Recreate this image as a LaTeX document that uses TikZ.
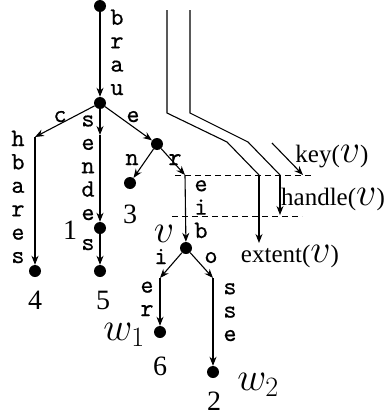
\RequirePackage{fix-cm}
\documentclass[tikz,border=0pt]{standalone}
\usepackage{fontspec}
\setmainfont{Liberation Serif}
\newfontfamily\edgefont{lmmono10-regular.otf}[FakeBold=0.4]
\usetikzlibrary{arrows.meta}
\newcommand{\letterstack}[1]{\vbox{\baselineskip=23.4pt\lineskiplimit=-100pt\lineskip=0pt\halign{\hfil##\hfil\cr#1\crcr}}}
\begin{document}
\begin{tikzpicture}[x=1pt,y=-1pt,
  dot/.style={circle,fill,inner sep=0pt,minimum size=12pt},
  arr/.style={-{Stealth[length=9pt,width=7pt]},line width=1.1pt},
  plain/.style={line width=1.1pt},
  dsh/.style={line width=1pt,dash pattern=on 6pt off 4pt},
  tt/.style={font=\edgefont\fontsize{25}{23.4}\selectfont,inner sep=0pt,anchor=base},
  num/.style={font=\fontsize{28}{30}\selectfont,inner sep=0pt,anchor=base},
  mth/.style={font=\fontsize{40}{40}\selectfont,inner sep=0pt,anchor=base},
  lbl/.style={font=\fontsize{25}{30}\selectfont,inner sep=0pt,anchor=base}]
\useasboundingbox (0,0) rectangle (385,415);
% dots
\node[dot] (root) at (100,6) {};
\node[dot] (n1) at (100,103) {};
\node[dot] (leaf4) at (35,271) {};
\node[dot] (d1) at (100,228) {};
\node[dot] (leaf5) at (100,271) {};
\node[dot] (n2) at (157,144) {};
\node[dot] (leaf3) at (130,183) {};
\node[dot] (v) at (186,248) {};
\node[dot] (leaf6) at (160,332) {};
\node[dot] (leaf2) at (213,372) {};
% bend points
\coordinate (cA) at (35,137);
\coordinate (sA) at (100,135);
\coordinate (rA) at (185,175);
\coordinate (iA) at (160,278);
\coordinate (oA) at (213,278);
% edges
\draw[arr] (root) -- (n1);
\draw[arr] (n1) -- (cA);
\draw[arr] (cA) -- (leaf4);
\draw[arr] (n1) -- (sA);
\draw[arr] (sA) -- (d1);
\draw[arr] (d1) -- (leaf5);
\draw[arr] (n1) -- (n2);
\draw[arr] (n2) -- (leaf3);
\draw[arr] (n2) -- (rA);
\draw[arr] (rA) -- (v);
\draw[arr] (v) -- (iA);
\draw[arr] (iA) -- (leaf6);
\draw[arr] (v) -- (oA);
\draw[arr] (oA) -- (leaf2);
% right side lines
\coordinate (a0) at (167,10);
\coordinate (a1) at (167,113);
\coordinate (a2) at (227,142);
\coordinate (a3) at (259,175);
\coordinate (a4) at (259,243);
\coordinate (b0) at (190,10);
\coordinate (b1) at (190,113);
\coordinate (b2) at (248,142);
\coordinate (b3) at (280,175);
\coordinate (b4) at (280,215);
\coordinate (k0) at (272,143);
\coordinate (k1) at (303,175);
\coordinate (u0) at (175,175);
\coordinate (u1) at (313,175);
\coordinate (l0) at (172,216);
\coordinate (l1) at (302,216);
\draw[plain] (a0) -- (a1) -- (a2) -- (a3);
\draw[arr] (a3) -- (a4);
\draw[plain] (b0) -- (b1) -- (b2) -- (b3);
\draw[arr] (b3) -- (b4);
\draw[arr] (k0) -- (k1);
\draw[dsh] (u0) -- (u1);
\draw[dsh] (l0) -- (l1);
% edge labels (anchor at baseline of last letter)
\node[tt] (tbrau) at (117,95) {\letterstack{b\cr r\cr a\cr u}};
\node[tt] (thbares) at (18,263) {\letterstack{h\cr b\cr a\cr r\cr e\cr s}};
\node[tt] (tsende) at (88,220) {\letterstack{s\cr e\cr n\cr d\cr e}};
\node[tt] (ts2) at (88,250) {s};
\node[tt] (tc) at (60,122) {c};
\node[tt] (te) at (133,122) {e};
\node[tt] (tn) at (132,165) {n};
\node[tt] (tr) at (175,165) {r};
\node[tt] (teib) at (201,238) {\letterstack{e\cr i\cr b}};
\node[tt] (ti) at (161,264) {i};
\node[tt] (to) at (211,263) {o};
\node[tt] (ter) at (147,316) {\letterstack{e\cr r}};
\node[tt] (tsse) at (230,341) {\letterstack{s\cr s\cr e}};
% numbers
\node[num] (l4) at (35,309) {4};
\node[num] (l5) at (103,309) {5};
\node[num] (l3) at (130,223) {3};
\node[num] (l1) at (70,239) {1};
\node[num] (l6) at (160,375) {6};
\node[num] (l2) at (214,410) {2};
% math labels
\node[mth] (lv) at (164,242) {$v$};
\node[mth] (lw1) at (124,340) {$w_1$};
\node[mth] (lw2) at (258,390) {$w_2$};
% key, handle, extent
\node[lbl] (lkey) at (332,162) {key({\fontsize{40}{40}\selectfont$v$})};
\node[lbl] (lhandle) at (333,205) {handle({\fontsize{40}{40}\selectfont$v$})};
\node[lbl] (lextent) at (290,262) {extent({\fontsize{40}{40}\selectfont$v$})};
\end{tikzpicture}
\end{document}
